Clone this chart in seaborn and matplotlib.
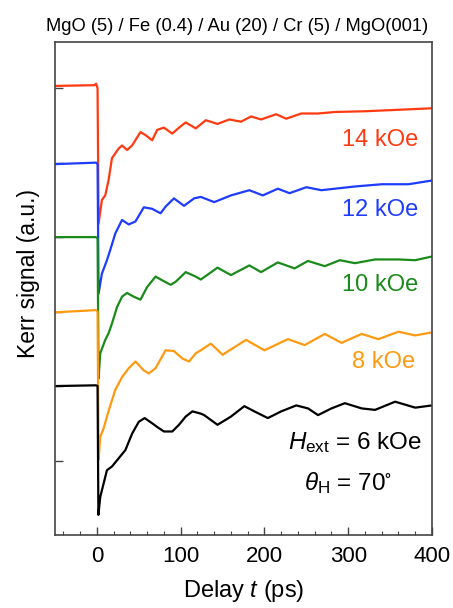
import matplotlib
matplotlib.use("Agg")
import matplotlib.pyplot as plt
import seaborn as sns
import pandas as pd

# ---- data ----
fields = ["14 kOe", "12 kOe", "10 kOe", "8 kOe", "6 kOe"]

t_14 = [-50, -3, -1, 0.8, 2, 6, 10, 14, 18, 26, 30, 36, 42, 52, 58, 66, 72, 80, 90, 98,
        106, 118, 130, 144, 158, 172, 184, 196, 214, 226, 244, 264, 284, 320, 360, 400]
y_14 = [4.03, 4.04, 4.06, 4.0, 2.18, 2.50, 2.56, 2.77, 3.06, 3.19, 3.23, 3.17, 3.23, 3.41, 3.37, 3.30, 3.44, 3.47, 3.39, 3.47,
        3.54, 3.46, 3.57, 3.52, 3.58, 3.55, 3.62, 3.58, 3.65, 3.59, 3.66, 3.66, 3.68, 3.69, 3.71, 3.73]

t_12 = [-50, -1, 0.8, 2, 6, 12, 16, 22, 30, 38, 46, 56, 66, 76, 82, 92, 104, 116, 124, 140,
        160, 182, 198, 216, 230, 250, 268, 308, 340, 372, 400]
y_12 = [2.98, 3.0, 2.98, 1.24, 1.51, 1.69, 1.83, 2.05, 2.23, 2.17, 2.21, 2.40, 2.38, 2.32, 2.41, 2.52, 2.42, 2.52, 2.54, 2.47,
        2.56, 2.63, 2.56, 2.65, 2.59, 2.67, 2.63, 2.68, 2.71, 2.71, 2.76]

t_10 = [-50, -1, 0.8, 2, 4, 10, 14, 18, 24, 30, 36, 44, 52, 60, 70, 78, 88, 94, 106, 118,
        124, 144, 160, 182, 196, 216, 236, 252, 272, 290, 308, 332, 360, 380, 400]
y_10 = [2.0, 2.0, 1.98, 0.1, 0.44, 0.62, 0.71, 0.84, 1.06, 1.20, 1.25, 1.20, 1.16, 1.33, 1.47, 1.42, 1.36, 1.40, 1.53, 1.47,
        1.43, 1.59, 1.49, 1.62, 1.53, 1.66, 1.58, 1.68, 1.61, 1.69, 1.65, 1.70, 1.70, 1.69, 1.74]

t_8 = [-50, -1, 0.8, 2, 4, 8, 12, 16, 22, 30, 38, 46, 56, 62, 70, 82, 92, 102, 110, 118,
       124, 136, 150, 178, 200, 228, 248, 272, 292, 316, 336, 360, 380, 400]
y_8 = [0.99, 1.02, 1.0, -0.99, -0.68, -0.57, -0.41, -0.26, -0.05, 0.12, 0.24, 0.33, 0.21, 0.17, 0.24, 0.48, 0.47, 0.37, 0.33, 0.44,
       0.48, 0.57, 0.42, 0.62, 0.48, 0.63, 0.55, 0.70, 0.58, 0.70, 0.63, 0.73, 0.68, 0.72]

t_6 = [-50, -1, 0.8, 1.8, 4, 8, 12, 18, 26, 34, 42, 50, 57, 66, 72, 80, 90, 98, 106, 114,
       124, 128, 144, 160, 176, 188, 204, 220, 238, 252, 264, 280, 296, 316, 332, 356, 380, 400]
y_6 = [0.0, 0.01, 0.0, -1.73, -1.49, -1.31, -1.13, -1.08, -0.97, -0.86, -0.64, -0.48, -0.43, -0.50, -0.55, -0.61, -0.61, -0.52, -0.41, -0.34,
       -0.37, -0.39, -0.52, -0.41, -0.27, -0.34, -0.43, -0.34, -0.26, -0.30, -0.39, -0.30, -0.23, -0.30, -0.32, -0.21, -0.29, -0.26]

colors = ["#FF3A12", "#1E3CFF", "#1A8A1A", "#FF9910", "#000000"]
title = "MgO (5) / Fe (0.4) / Au (20) / Cr (5) / MgO(001)"

series = [(t_14, y_14), (t_12, y_12), (t_10, y_10), (t_8, y_8), (t_6, y_6)]
frames = []
for f, (tt, yy) in zip(fields, series):
    frames.append(pd.DataFrame({"t": tt, "signal": yy, "field": f}))
df = pd.concat(frames, ignore_index=True)

# ---- style ----
sns.set_theme(style="ticks")
plt.rcParams["font.family"] = ["Liberation Sans", "DejaVu Sans"]
plt.rcParams["mathtext.fontset"] = "custom"
plt.rcParams["mathtext.rm"] = "Liberation Sans"
plt.rcParams["mathtext.it"] = "Liberation Sans:italic"
plt.rcParams["mathtext.default"] = "regular"
plt.rcParams["text.color"] = "black"
plt.rcParams["axes.labelcolor"] = "black"

fig = plt.figure(figsize=(4.53, 6.08), dpi=100)
ax = fig.add_axes([55 / 453, 1 - 535 / 608, 377 / 453, 493 / 608])

sns.lineplot(data=df, x="t", y="signal", hue="field", hue_order=fields,
             palette=dict(zip(fields, colors)), estimator=None, sort=False,
             linewidth=1.6, legend=False, ax=ax)

ax.set_xlim(-50, 400)
ax.set_ylim(-2.0, 4.62)
ax.set_xticks([0, 100, 200, 300, 400])
ax.set_xticks(list(range(-40, 401, 20)), minor=True)
ax.set_yticks([-1, 0, 1, 2, 3, 4])
ax.set_yticklabels([])
ax.tick_params(axis="both", which="both", direction="in", colors="#444444",
               labelcolor="black", top=False, right=False)
ax.tick_params(axis="x", which="major", length=6, width=1.0, labelsize=16, pad=8)
ax.tick_params(axis="x", which="minor", length=3, width=0.8)
ax.tick_params(axis="y", which="major", length=6, width=1.0)
for s in ax.spines.values():
    s.set_color("#444444")
    s.set_linewidth(1.2)

ax.set_xlabel("Delay $\\mathit{t}$ (ps)", fontsize=17, labelpad=8)
ax.set_ylabel("Kerr signal (a.u.)", fontsize=16.5)
ax.yaxis.set_label_coords(-0.04, 0.531)
ax.set_title(title, fontsize=13.2, pad=8, x=0.484)

# labels
ax.text(384, 3.23, "14 kOe", color=colors[0], fontsize=17, ha="right", va="baseline")
ax.text(384, 2.29, "12 kOe", color=colors[1], fontsize=17, ha="right", va="baseline")
ax.text(384, 1.27, "10 kOe", color=colors[2], fontsize=17, ha="right", va="baseline")
ax.text(380, 0.24, "8 kOe", color=colors[3], fontsize=17, ha="right", va="baseline")
ax.text(388, -0.84, "$\\mathit{H}_{\\rm ext}$ = 6 kOe", color="black", fontsize=17.5, ha="right", va="baseline")
ax.text(352, -1.40, "$\\mathit{\\theta}_{\\rm H}$ = 70$^{\\circ}$", color="black", fontsize=17.5, ha="right", va="baseline")

fig.savefig("out.png", dpi=100)
